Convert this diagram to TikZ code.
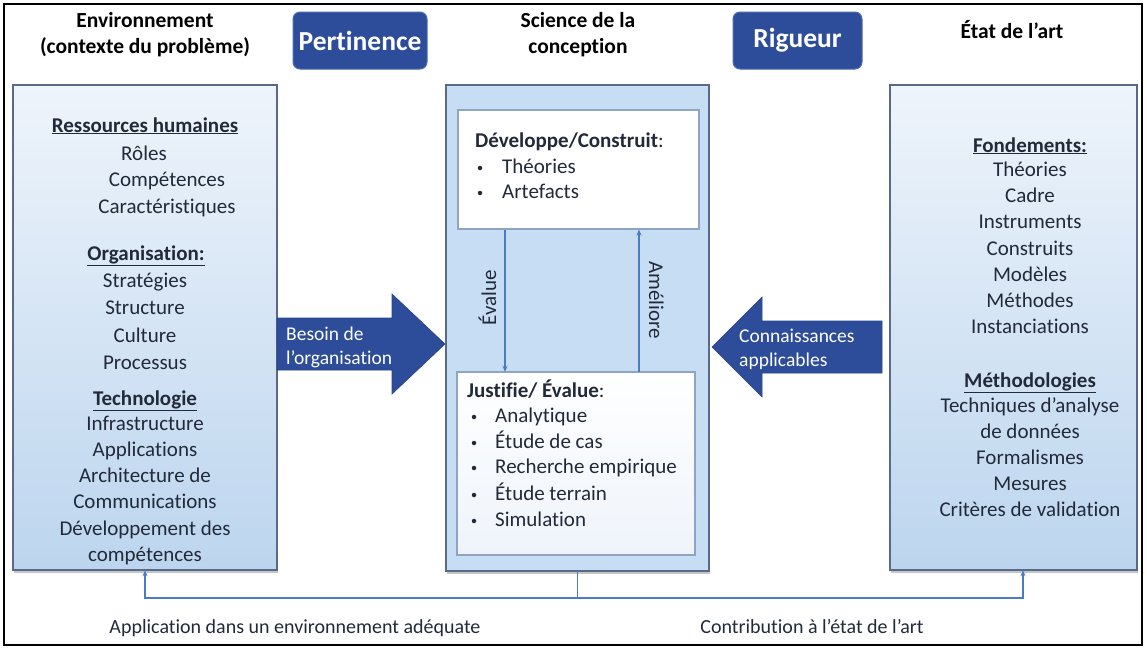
\documentclass[tikz,border=0pt]{standalone}
\usepackage{fontspec}
\setmainfont{Carlito}[Ligatures=NoCommon]
\usetikzlibrary{arrows.meta,shadows}

\definecolor{navy}{HTML}{2D4D9A}
\definecolor{navyedge}{HTML}{4C6CB4}
\definecolor{boxedge}{HTML}{58698A}
\definecolor{paleblue}{HTML}{C6DDF3}
\definecolor{topblue}{HTML}{EEF4FB}
\definecolor{botblue}{HTML}{BCD5EE}
\definecolor{innerline}{HTML}{8FA4C2}
\definecolor{linkblue}{HTML}{4A7CC0}
\definecolor{ink}{HTML}{222A3A}

\tikzset{
  panel/.style={draw=boxedge, line width=1.2pt, top color=topblue, bottom color=botblue,
    drop shadow={shadow xshift=1pt, shadow yshift=-2.5pt, opacity=0.45}},
  badge/.style={fill=navy, draw=navyedge, line width=1pt, rounded corners=7pt,
    text=white, font=\fontsize{27.5}{32}\selectfont\bfseries, inner sep=0pt},
  head/.style={font=\fontsize{21.5}{26}\selectfont\bfseries, text=black, align=center, inner sep=0pt},
  txt/.style={font=\fontsize{21}{26}\selectfont, text=ink, inner sep=0pt,
    text height=15pt, text depth=5pt},
  ltxt/.style={txt, anchor=west},
  dot/.style={circle, fill=ink, inner sep=0pt, minimum size=4.5pt},
  wtxt/.style={font=\fontsize{19.5}{24}\selectfont, text=white, inner sep=0pt, anchor=west,
    text height=14pt, text depth=4.5pt},
  bigarrow/.style={fill=navy, draw=navy!90!black, line width=0.6pt},
  link/.style={draw=linkblue, line width=1.4pt},
  tip/.style={-{Stealth[length=6pt,width=5pt]}},
  inner/.style={draw=innerline, line width=1.2pt}
}

\begin{document}
\begin{tikzpicture}[x=1pt,y=-1pt]
\useasboundingbox (0,0) rectangle (1147,649);
\fill[white] (0,0) rectangle (1147,649);

% column headings
\node[head] (envhead) at (145,35) {Environnement\\(contexte du problème)};
\node[head] (scihead) at (578,35) {Science de la\\conception};
\node[head] (arthead) at (1012,30) {État de l'art};
\node[badge, minimum width=134pt, minimum height=57pt] (pert) at (360,40.5) {Pertinence};
\node[badge, minimum width=129pt, minimum height=57pt] (rig) at (797.5,40.5) {Rigueur};

% the three panels
\path[panel] (13,85) rectangle (277,570);
\node[inner sep=0pt, minimum width=264pt, minimum height=485pt] (envbox) at (145,327.5) {};
\path[panel] (890,85) rectangle (1137,570);
\node[inner sep=0pt, minimum width=247pt, minimum height=485pt] (artbox) at (1013.5,327.5) {};
\path[draw=boxedge, line width=1.2pt, fill=paleblue,
  drop shadow={shadow xshift=1pt, shadow yshift=-2.5pt, opacity=0.45}] (446,85) rectangle (709,571);
\node[inner sep=0pt, minimum width=263pt, minimum height=486pt] (scibox) at (577.5,328) {};

% inner boxes of the design science panel
\node[inner, fill=white, minimum width=241pt, minimum height=119pt, inner sep=0pt] (devbox) at (578.5,169.5) {};
\path[inner, top color=white, bottom color=topblue] (457,372) rectangle (695,555);
\node[inner sep=0pt, minimum width=238pt, minimum height=183pt] (justbox) at (576,463.5) {};

% environment panel
\node[txt] (l1) at (145,127) {\textbf{\underline{Ressources humaines}}};
\node[txt] (l2) at (144,155) {Rôles};
\node[txt] (l3) at (167,181) {Compétences};
\node[txt] (l4) at (167,208) {Caractéristiques};
\node[txt] (l5) at (146,255) {\textbf{\underline{Organisation:}}};
\node[txt] (l6) at (145,282) {Stratégies};
\node[txt] (l7) at (145,309) {Structure};
\node[txt] (l8) at (145,337) {Culture};
\node[txt] (l9) at (145,364) {Processus};
\node[txt] (l10) at (145,400) {\textbf{\underline{Technologie}}};
\node[txt] (l11) at (145,425) {Infrastructure};
\node[txt] (l12) at (145,451) {Applications};
\node[txt] (l13) at (145,477) {Architecture de};
\node[txt] (l14) at (145,503) {Communications};
\node[txt] (l15) at (145,530) {Développement des};
\node[txt] (l16) at (145,556) {compétences};

% knowledge base panel
\node[txt] (r1) at (1030,147) {\textbf{\underline{Fondements:}}};
\node[txt] (r2) at (1030,171) {Théories};
\node[txt] (r3) at (1030,197) {Cadre};
\node[txt] (r4) at (1030,223) {Instruments};
\node[txt] (r5) at (1030,250) {Construits};
\node[txt] (r6) at (1030,276) {Modèles};
\node[txt] (r7) at (1030,302) {Méthodes};
\node[txt] (r8) at (1030,328) {Instanciations};
\node[txt] (r9) at (1030,382) {\textbf{\underline{Méthodologies}}};
\node[txt] (r10) at (1030,407) {Techniques d'analyse};
\node[txt] (r11) at (1030,433) {de données};
\node[txt] (r12) at (1030,459) {Formalismes};
\node[txt] (r13) at (1030,485) {Mesures};
\node[txt] (r14) at (1030,511) {Critères de validation};

% develop / build
\node[ltxt] (d0) at (475,142) {\textbf{Développe/Construit}:};
\node[dot] (d1b) at (480,168) {};
\node[ltxt] (d1) at (502,168) {Théories};
\node[dot] (d2b) at (480,193) {};
\node[ltxt] (d2) at (502,193) {Artefacts};

% justify / evaluate
\node[ltxt] (j0) at (467,392) {\textbf{Justifie/ Évalue}:};
\node[dot] (j1b) at (474,417) {};
\node[ltxt] (j1) at (495,417) {Analytique};
\node[dot] (j2b) at (474,443) {};
\node[ltxt] (j2) at (495,443) {Étude de cas};
\node[dot] (j3b) at (474,468) {};
\node[ltxt] (j3) at (495,468) {Recherche empirique};
\node[dot] (j4b) at (474,495) {};
\node[ltxt] (j4) at (495,495) {Étude terrain};
\node[dot] (j5b) at (474,521) {};
\node[ltxt] (j5) at (495,521) {Simulation};

% assess / refine loop
\draw[link, tip] (devbox.south -| 505,0) -- (justbox.north -| 505,0);
\draw[link, tip] (justbox.north -| 639,0) -- (devbox.south -| 639,0);
\node[txt, rotate=90] (eval) at (491,298) {Évalue};
\node[txt, rotate=-90] (amel) at (654,300) {Améliore};

% relevance and rigor arrows
\fill[bigarrow] (277,318) -- (392,318) -- (392,294) -- (445,344) -- (392,394) -- (392,370) -- (277,370) -- cycle;
\node[wtxt] (need1) at (286,336) {Besoin de};
\node[wtxt] (need2) at (286,360) {l'organisation};
\fill[bigarrow] (882,321) -- (762,321) -- (762,297) -- (712,347) -- (762,397) -- (762,373) -- (882,373) -- cycle;
\node[wtxt] (kn1) at (739,338) {Connaissances};
\node[wtxt] (kn2) at (739,362) {applicables};

% feedback bus under the panels
\coordinate (bus) at (scibox.south |- 0,598);
\draw[link] (scibox.south) -- (bus);
\draw[link, tip] (bus) -| (envbox.south);
\draw[link, tip] (bus) -| ([xshift=9.5pt]artbox.south);
\node[txt, font=\fontsize{20}{25}\selectfont] (appl) at (295,628) {Application dans un environnement adéquate};
\node[txt, font=\fontsize{20}{25}\selectfont] (contrib) at (812,628) {Contribution à l'état de l'art};

% outer frame
\draw[black, line width=2pt] (4,4) rectangle (1142,645);
\end{tikzpicture}
\end{document}
